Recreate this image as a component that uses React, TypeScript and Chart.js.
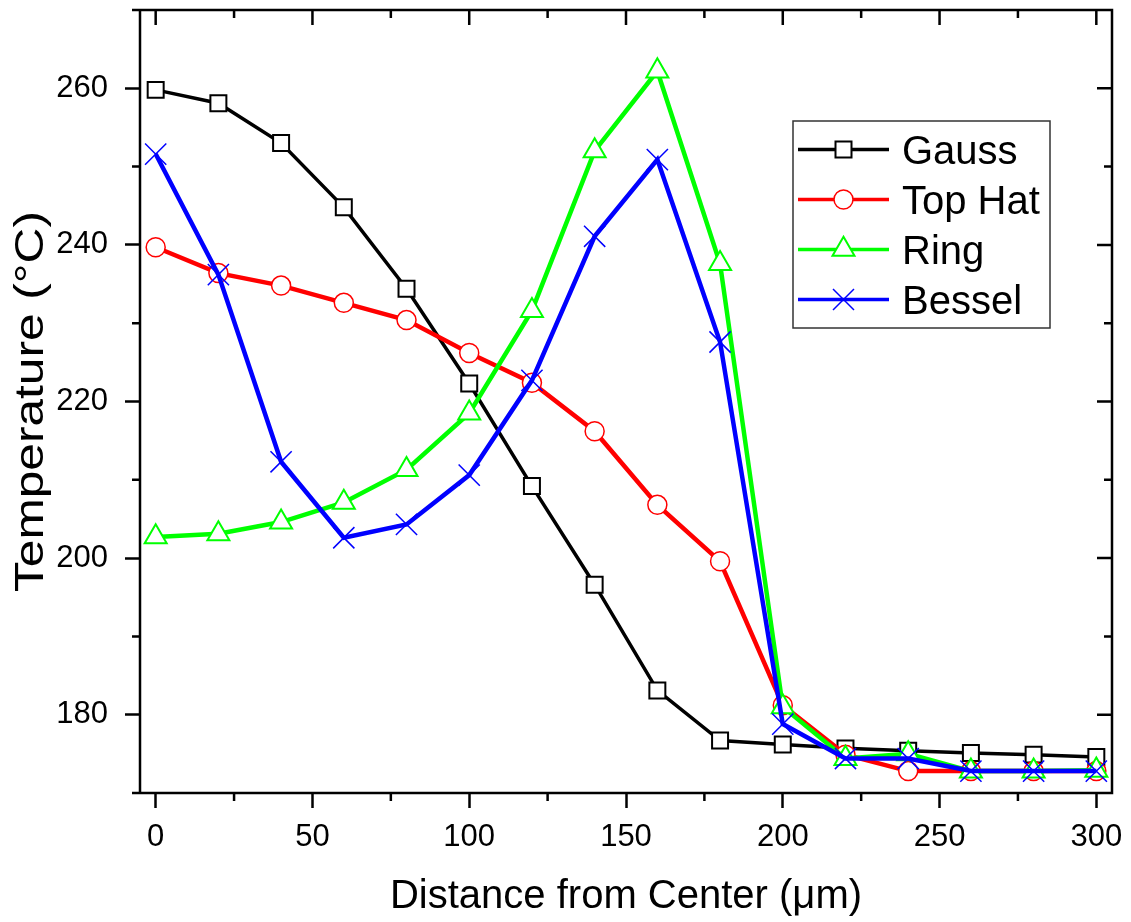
import React, { useEffect, useRef } from 'react';
import { Chart, registerables } from 'chart.js';

Chart.register(...registerables);

const distances = [0, 20, 40, 60, 80, 100, 120, 140, 160, 180, 200, 220, 240, 260, 280, 300];
const gauss = [259.8, 258.1, 253.0, 244.8, 234.4, 222.3, 209.2, 196.6, 183.1, 176.7, 176.2, 175.7, 175.4, 175.1, 174.9, 174.6];
const topHat = [239.7, 236.4, 234.8, 232.6, 230.4, 226.2, 222.4, 216.2, 206.8, 199.6, 181.2, 174.9, 172.8, 172.8, 172.8, 172.8];
const ring = [202.7, 203.1, 204.6, 207.1, 211.3, 218.5, 231.6, 252.0, 262.2, 237.6, 181.0, 174.4, 175.0, 172.8, 172.8, 172.9];
const bessel = [251.6, 236.2, 212.3, 202.6, 204.3, 210.6, 222.7, 241.1, 250.9, 227.6, 178.8, 174.4, 174.4, 172.8, 172.8, 172.8];

const seriesNames = ['Gauss', 'Top Hat', 'Ring', 'Bessel'];
const xMajorTicks = [0, 50, 100, 150, 200, 250, 300];
const xMinorTicks = [25, 75, 125, 175, 225, 275];
const yMajorTicks = [180, 200, 220, 240, 260];
const yMinorTicks = [190, 210, 230, 250];
const xTitle = 'Distance from Center (μm)';
const yTitle = 'Temperature (°C)';

const FONT = "Arial, 'Liberation Sans', sans-serif";

const styles = [
  { color: '#000000', width: 3.5, marker: 'rect', radius: 11.3, mBorder: 2 },
  { color: '#ff0000', width: 4.5, marker: 'circle', radius: 9.5, mBorder: 1.5 },
  { color: '#00ff00', width: 4.5, marker: 'triangle', radius: 12.7, mBorder: 2 },
  { color: '#0000ff', width: 4.5, marker: 'crossRot', radius: 15, mBorder: 1.5 },
];

function drawMarker(ctx: CanvasRenderingContext2D, kind: string, x: number, y: number, color: string) {
  ctx.save();
  ctx.strokeStyle = color;
  ctx.fillStyle = '#ffffff';
  if (kind === 'rect') {
    ctx.lineWidth = 2;
    ctx.beginPath();
    ctx.rect(x - 8, y - 8, 16, 16);
    ctx.fill();
    ctx.stroke();
  } else if (kind === 'circle') {
    ctx.lineWidth = 1.5;
    ctx.beginPath();
    ctx.arc(x, y, 9.5, 0, Math.PI * 2);
    ctx.fill();
    ctx.stroke();
  } else if (kind === 'triangle') {
    const r = 12.7;
    ctx.lineWidth = 2;
    ctx.beginPath();
    ctx.moveTo(x, y - r);
    ctx.lineTo(x + r * Math.sin((2 * Math.PI) / 3), y + r / 2);
    ctx.lineTo(x - r * Math.sin((2 * Math.PI) / 3), y + r / 2);
    ctx.closePath();
    ctx.fill();
    ctx.stroke();
  } else {
    const h = 10.5;
    ctx.lineWidth = 1.5;
    ctx.beginPath();
    ctx.moveTo(x - h, y - h);
    ctx.lineTo(x + h, y + h);
    ctx.moveTo(x + h, y - h);
    ctx.lineTo(x - h, y + h);
    ctx.stroke();
  }
  ctx.restore();
}

const decorPlugin = {
  id: 'decor',
  afterDraw(chart: any) {
    const { ctx, chartArea: a, scales } = chart;
    const xs = scales.x;
    const ys = scales.y;
    const MAJ = 15;
    const MIN = 8;
    ctx.save();
    ctx.strokeStyle = '#000';
    ctx.lineWidth = 2.5;
    ctx.lineCap = 'butt';
    ctx.beginPath();
    ctx.moveTo(a.left - 8, a.top);
    ctx.lineTo(a.right, a.top);
    ctx.moveTo(a.left - 8, a.bottom);
    ctx.lineTo(a.right, a.bottom);
    ctx.moveTo(a.left, a.top);
    ctx.lineTo(a.left, a.bottom);
    ctx.moveTo(a.right, a.top - 1.25);
    ctx.lineTo(a.right, a.bottom + 1.25);
    for (const v of xMinorTicks) {
      const px = xs.getPixelForValue(v);
      ctx.moveTo(px, a.bottom);
      ctx.lineTo(px, a.bottom + MIN);
      ctx.moveTo(px, a.top);
      ctx.lineTo(px, a.top + MIN);
    }
    for (const v of xMajorTicks) {
      const px = xs.getPixelForValue(v);
      ctx.moveTo(px, a.top);
      ctx.lineTo(px, a.top + MAJ);
    }
    for (const v of yMinorTicks) {
      const py = ys.getPixelForValue(v);
      ctx.moveTo(a.left, py);
      ctx.lineTo(a.left - MIN, py);
      ctx.moveTo(a.right, py);
      ctx.lineTo(a.right - MIN, py);
    }
    for (const v of yMajorTicks) {
      const py = ys.getPixelForValue(v);
      ctx.moveTo(a.right, py);
      ctx.lineTo(a.right - MAJ, py);
    }
    ctx.stroke();

    ctx.fillStyle = '#000';
    ctx.font = `40px ${FONT}`;
    ctx.textAlign = 'center';
    ctx.textBaseline = 'alphabetic';
    ctx.fillText(xTitle, (a.left + a.right) / 2, 908);

    ctx.save();
    ctx.translate(43, (a.top + a.bottom) / 2);
    ctx.rotate(-Math.PI / 2);
    ctx.scale(1.24, 1);
    ctx.fillText(yTitle, 0, 0);
    ctx.restore();

    const lx = 793, ly = 121, lw = 257, lh = 207;
    ctx.fillStyle = '#ffffff';
    ctx.fillRect(lx, ly, lw, lh);
    ctx.strokeStyle = '#333';
    ctx.lineWidth = 1.5;
    ctx.strokeRect(lx, ly, lw, lh);
    const rows = [149.5, 199.5, 249.5, 299.5];
    seriesNames.forEach((name, i) => {
      const s = styles[i];
      const y = rows[i];
      ctx.strokeStyle = s.color;
      ctx.lineWidth = 3.3;
      ctx.beginPath();
      ctx.moveTo(798, y);
      ctx.lineTo(889, y);
      ctx.stroke();
      drawMarker(ctx, s.marker, 843.5, y, s.color);
      ctx.fillStyle = '#000';
      ctx.font = `40px ${FONT}`;
      ctx.textAlign = 'left';
      ctx.textBaseline = 'alphabetic';
      ctx.fillText(name, 902, y + 14);
    });
    ctx.restore();
  },
};

export default function App() {
  const canvasRef = useRef<HTMLCanvasElement | null>(null);

  useEffect(() => {
    if (!canvasRef.current) return;
    const seriesValues = [gauss, topHat, ring, bessel];
    const datasets = seriesNames.map((name, i) => {
      const s = styles[i];
      return {
        label: name,
        data: distances.map((d, j) => ({ x: d, y: seriesValues[i][j] })),
        borderColor: s.color,
        borderWidth: s.width,
        backgroundColor: s.color,
        pointStyle: s.marker,
        pointRadius: s.radius,
        pointHoverRadius: s.radius,
        pointBorderWidth: s.mBorder,
        pointBorderColor: s.color,
        pointBackgroundColor: '#ffffff',
        tension: 0,
        fill: false,
        order: 3 - i,
        clip: false as any,
      };
    });

    const chart = new Chart(canvasRef.current, {
      type: 'line',
      data: { datasets },
      options: {
        animation: false,
        responsive: false,
        devicePixelRatio: 1,
        events: [],
        layout: { autoPadding: false, padding: { left: 0, top: 10, right: 19, bottom: 0 } },
        plugins: {
          legend: { display: false },
          tooltip: { enabled: false },
          title: { display: false },
        },
        scales: {
          x: {
            type: 'linear',
            min: -5,
            max: 305,
            afterBuildTicks: (s: any) => {
              s.ticks = xMajorTicks.map((v) => ({ value: v }));
            },
            afterFit: (s: any) => {
              s.height = 129;
              s.paddingLeft = 0;
              s.paddingRight = 0;
              s.paddingTop = 0;
              s.paddingBottom = 0;
            },
            border: { display: false },
            grid: {
              display: true,
              drawOnChartArea: false,
              drawTicks: true,
              tickLength: 15,
              tickWidth: 2.5,
              tickColor: '#000',
            },
            ticks: {
              color: '#000',
              font: { family: FONT, size: 31 },
              padding: 11,
              maxRotation: 0,
              autoSkip: false,
            },
          },
          y: {
            type: 'linear',
            min: 170,
            max: 270,
            afterBuildTicks: (s: any) => {
              s.ticks = yMajorTicks.map((v) => ({ value: v }));
            },
            afterFit: (s: any) => {
              s.width = 140;
              s.paddingLeft = 0;
              s.paddingRight = 0;
              s.paddingTop = 0;
              s.paddingBottom = 0;
            },
            border: { display: false },
            grid: {
              display: true,
              drawOnChartArea: false,
              drawTicks: true,
              tickLength: 15,
              tickWidth: 2.5,
              tickColor: '#000',
            },
            ticks: {
              color: '#000',
              font: { family: FONT, size: 31 },
              padding: 17,
              autoSkip: false,
            },
          },
        },
      },
      plugins: [decorPlugin],
    });
    return () => chart.destroy();
  }, []);

  return (
    <div style={{ position: 'fixed', left: 0, top: 0, width: 1131, height: 922, background: '#fff' }}>
      <canvas ref={canvasRef} width={1131} height={922} style={{ display: 'block' }} />
    </div>
  );
}
